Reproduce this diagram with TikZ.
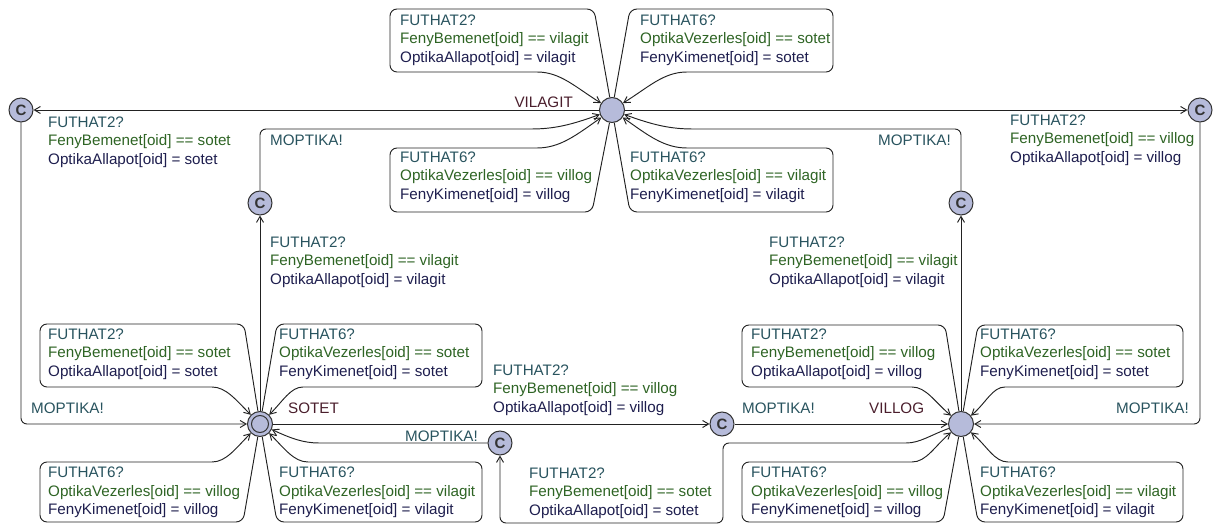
\documentclass[tikz,border=0pt]{standalone}
\usepackage{fontspec}
\setmainfont{Liberation Sans}
\usetikzlibrary{arrows.meta}

\definecolor{synccol}{HTML}{28535E}
\definecolor{guardcol}{HTML}{2E6424}
\definecolor{updcol}{HTML}{1E1E4E}
\definecolor{namecol}{HTML}{4A1E2C}
\definecolor{locfill}{HTML}{B6BBDA}
\definecolor{edgecol}{HTML}{222222}

\newcommand\lblfont{\fontsize{15.2}{18}\selectfont}

% three-line transition label: name, baseline of first line, sync, guard, update
\newcommand\trlabel[5]{%
  \path #2 node[lb,text=synccol] (#1s) {#3}
        ++(0,18.5) node[lb,text=guardcol] (#1g) {#4}
        ++(0,18.5) node[lb,text=updcol] (#1u) {#5};}

\begin{document}
\begin{tikzpicture}[x=1pt,y=-1pt,
  lb/.style={anchor=base west,inner sep=0pt,font=\lblfont},
  sync/.style={inner sep=0pt,font=\lblfont,text=synccol},
  lname/.style={inner sep=0pt,font=\lblfont,text=namecol},
  loc/.style={circle,draw=black!80,line width=1pt,fill=locfill,minimum size=25pt,inner sep=0pt},
  com/.style={circle,draw=black!80,line width=1pt,fill=locfill,minimum size=24pt,inner sep=0pt,
              font=\fontsize{15}{15}\bfseries,text=black!80},
  edge/.style={draw=edgecol,line width=0.95pt,-{Straight Barb[length=6pt,width=7pt]}},
  selfloop/.style={edge,rounded corners=7pt},
  cornered/.style={edge,rounded corners=6pt}]

\useasboundingbox (0,0) rectangle (1213,526);

% ---------- locations ----------
\node[loc] (vil) at (612,110) {};
\node[loc] (sot) at (260,424) {};
\node[loc,minimum size=17pt] (sotin) at (260,424) {};
\node[loc] (vlg) at (961,424) {};

\node[com] (c1) at (21,110) {C};
\node[com] (c2) at (1200,110) {C};
\node[com] (c3) at (260,203) {C};
\node[com] (c4) at (961,203) {C};
\node[com] (c5) at (500,443) {C};
\node[com] (c6) at (722,424) {C};

% location names
\node[lname,anchor=east] (nvil) at (573,102) {VILAGIT};
\node[lname,anchor=west] (nsot) at (288,408) {SOTET};
\node[lname,anchor=west] (nvlg) at (869,408) {VILLOG};

% ---------- self loops of VILAGIT ----------
\draw[selfloop] (vil) -- (594,9) -- (390,9) -- (390,72) -- (530,72) to[out=0,in=148] (vil);
\draw[selfloop] (vil) -- (630,9) -- (833,9) -- (833,72) -- (694,72) to[out=180,in=32] (vil);
\draw[selfloop] (vil) -- (592,212) -- (390,212) -- (390,148) -- (530,148) to[out=0,in=-145] (vil);
\draw[selfloop] (vil) -- (630,212) -- (833,212) -- (833,148) -- (694,148) to[out=180,in=-35] (vil);
\trlabel{lva}{(400,25.5)}{FUTHAT2?}{FenyBemenet[oid] == vilagit}{OptikaAllapot[oid] = vilagit}
\trlabel{lvb}{(640,25.5)}{FUTHAT6?}{OptikaVezerles[oid] == sotet}{FenyKimenet[oid] = sotet}
\trlabel{lvc}{(400,162.5)}{FUTHAT6?}{OptikaVezerles[oid] == villog}{FenyKimenet[oid] = villog}
\trlabel{lvd}{(630,162.5)}{FUTHAT6?}{OptikaVezerles[oid] == vilagit}{FenyKimenet[oid] = vilagit}

% ---------- self loops of SOTET ----------
\draw[selfloop] (sot) -- (244,324) -- (40,324) -- (40,387) -- (205,387) to[out=0,in=135] (sot);
\draw[selfloop] (sot) -- (277,324) -- (482,324) -- (482,387) -- (310,387) to[out=180,in=45] (sot);
\draw[selfloop] (sot) -- (243,522) -- (40,522) -- (40,462) -- (205,462) to[out=0,in=-135] (sot);
\draw[selfloop] (sot) -- (277,522) -- (482,522) -- (482,462) -- (315,462) to[out=180,in=-45] (sot);
\trlabel{lsa}{(48,339.5)}{FUTHAT2?}{FenyBemenet[oid] == sotet}{OptikaAllapot[oid] = sotet}
\trlabel{lsb}{(279,339.5)}{FUTHAT6?}{OptikaVezerles[oid] == sotet}{FenyKimenet[oid] = sotet}
\trlabel{lsc}{(48,477.5)}{FUTHAT6?}{OptikaVezerles[oid] == villog}{FenyKimenet[oid] = villog}
\trlabel{lsd}{(279,477.5)}{FUTHAT6?}{OptikaVezerles[oid] == vilagit}{FenyKimenet[oid] = vilagit}

% ---------- self loops of VILLOG ----------
\draw[selfloop] (vlg) -- (945,325) -- (742,325) -- (742,387) -- (905,387) to[out=0,in=140] (vlg);
\draw[selfloop] (vlg) -- (978,325) -- (1183,325) -- (1183,387) -- (1012,387) to[out=180,in=40] (vlg);
\draw[selfloop] (vlg) -- (943,522) -- (742,522) -- (742,462) -- (905,462) to[out=0,in=-140] (vlg);
\draw[selfloop] (vlg) -- (978,522) -- (1183,522) -- (1183,462) -- (1015,462) to[out=180,in=-40] (vlg);
\trlabel{lga}{(751,339.5)}{FUTHAT2?}{FenyBemenet[oid] == villog}{OptikaAllapot[oid] = villog}
\trlabel{lgb}{(980,339.5)}{FUTHAT6?}{OptikaVezerles[oid] == sotet}{FenyKimenet[oid] = sotet}
\trlabel{lgc}{(751,477.5)}{FUTHAT6?}{OptikaVezerles[oid] == villog}{FenyKimenet[oid] = villog}
\trlabel{lgd}{(980,477.5)}{FUTHAT6?}{OptikaVezerles[oid] == vilagit}{FenyKimenet[oid] = vilagit}

% ---------- transitions through committed locations ----------
% VILAGIT -> SOTET
\draw[edge] (vil) -- (c1);
\trlabel{lv1}{(48,127.5)}{FUTHAT2?}{FenyBemenet[oid] == sotet}{OptikaAllapot[oid] = sotet}
\draw[cornered] (c1) |- (sot);
\node[sync,anchor=west] (m1) at (31,408) {MOPTIKA!};

% VILAGIT -> VILLOG
\draw[edge] (vil) -- (c2);
\trlabel{lv2}{(1010,125.5)}{FUTHAT2?}{FenyBemenet[oid] == villog}{OptikaAllapot[oid] = villog}
\draw[cornered] (c2) |- (vlg);
\node[sync,anchor=east] (m2) at (1189,408) {MOPTIKA!};

% SOTET -> VILAGIT
\draw[edge] (sot) -- (c3);
\trlabel{ls3}{(270,247.5)}{FUTHAT2?}{FenyBemenet[oid] == vilagit}{OptikaAllapot[oid] = vilagit}
\draw[cornered] (c3) -- (260,129) -- (525,129) to[out=0,in=-160] (vil);
\node[sync,anchor=west] (m3) at (270,140) {MOPTIKA!};

% VILLOG -> VILAGIT
\draw[edge] (vlg) -- (c4);
\trlabel{lg4}{(769,247.5)}{FUTHAT2?}{FenyBemenet[oid] == vilagit}{OptikaAllapot[oid] = vilagit}
\draw[cornered] (c4) -- (961,129) -- (699,129) to[out=180,in=-20] (vil);
\node[sync,anchor=east] (m4) at (951,140) {MOPTIKA!};

% SOTET -> VILLOG
\draw[edge] (sot) -- (c6);
\trlabel{ls6}{(493,375.5)}{FUTHAT2?}{FenyBemenet[oid] == villog}{OptikaAllapot[oid] = villog}
\draw[edge] (c6) -- (vlg);
\node[sync,anchor=west] (m6) at (742,408) {MOPTIKA!};

% VILLOG -> SOTET
\draw[cornered] (vlg) to[out=-160,in=0] (900,443) -- (723,443) -- (723,523) -- (500,523) -- (c5);
\trlabel{lg5}{(529,478)}{FUTHAT2?}{FenyBemenet[oid] == sotet}{OptikaAllapot[oid] = sotet}
\draw[cornered] (c5) -- (325,443) to[out=180,in=-25] (sot);
\node[sync,anchor=east] (m5) at (478,436) {MOPTIKA!};

\end{tikzpicture}
\end{document}
